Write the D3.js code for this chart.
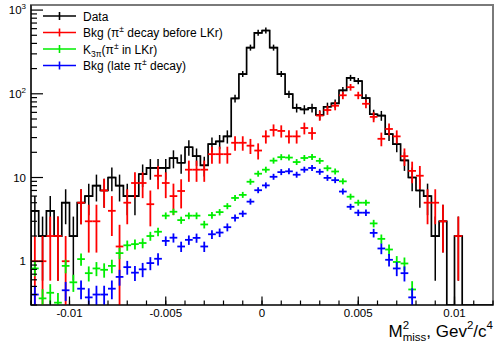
<!DOCTYPE html>
<html>
<head>
<meta charset="utf-8">
<script src="https://cdn.jsdelivr.net/npm/d3@7.9.0/dist/d3.min.js"></script>
<style>
  html, body { margin: 0; padding: 0; background: #fff; }
  svg { display: block; }
  text { font-family: 'Liberation Sans', Arimo, Arial, Helvetica, sans-serif; }
</style>
</head>
<body>
<svg id="chart" width="495" height="343" font-family="Liberation Sans, Arial, sans-serif"></svg>
<script>
// binning of the M2miss histograms
const xLow = -0.012, xHigh = 0.012, nBins = 60;

// bin contents
const dataCounts = [
  4, 2, 4, 2, 5, 2, 5, 6, 8, 7,
  10, 8, 6, 6, 11, 13, 13, 13, 17, 15,
  23, 18, 14, 25, 27, 31, 88, 172, 356, 535,
  570, 356, 172, 99, 68, 65, 68, 56, 70, 77,
  110, 155, 142, 89, 57, 55, 33, 25, 16, 10,
  7, 6, 2, 3, 0, 2, 0, 0, 0, 0
];
const bkgBeforeLKr = [
  1, 1, 2, 2, 1, 0, 5, 3, 3, 7,
  4, 1.5, 5, 8.6, 8.6, 4.8, 10.5, 8.6, 6, 6.9,
  12.4, 12.4, 12.4, 19, 19, 19, 26, 26, 24, 21,
  31, 37, 36, 31, 31, 39, 34, 55, 64, 72,
  96, 120, 96, 76, 53, 29, 38, 31, 18, 12,
  10.5, 5, 5, 3, 0, 2, 0, 0, 0, 0
];
const k3piInLKr = [
  0.82, 0.36, 0.42, 0.32, 0.88, 0.56, 1.06, 0.72, 0.82, 0.79,
  0.88, 1.25, 1.55, 1.6, 1.65, 2.0, 2.25, 3.5, 3.9, 3.1,
  3.5, 3.5, 2.75, 3.55, 3.86, 4.55, 5.7, 6.2, 8.9, 11.1,
  12.4, 15.9, 17.5, 17.3, 15.3, 17.1, 17.6, 15.8, 12.9, 11.8,
  9.0, 5.9, 5.0, 5.0, 2.83, 1.85, 1.38, 0.98, 0.94, 0.46,
  0, 0, 0, 0, 0, 0, 0, 0, 0, 0
];
const bkgLateDecay = [
  0.40, 0, 0, 0, 0.45, 0, 0.47, 0.37, 0.40, 0.40,
  0.47, 0.65, 0.85, 0.73, 0.80, 0.95, 1.07, 1.75, 1.91, 1.5,
  1.8, 1.9, 1.5, 2.1, 2.2, 2.55, 3.3, 3.7, 5.15, 7.05,
  8.05, 10.2, 11.6, 11.85, 10.8, 12.4, 13.0, 11.7, 9.9, 9.3,
  6.8, 4.47, 3.8, 3.8, 2.18, 1.42, 1.04, 0.82, 0.72, 0.37,
  0, 0, 0, 0, 0, 0, 0, 0, 0, 0
];

const xTicks = [-0.01, -0.005, 0, 0.005, 0.01];
const xTickLabels = ['-0.01', '-0.005', '0', '0.005', '0.01'];
const yTicks = [1, 10, 100, 1000];
const yTickLabels = [['1', ''], ['10', ''], ['10', '2'], ['10', '3']];

// legend text pieces: [text, 0 normal | 1 superscript | -1 subscript]
const legendNames = [
  [['Data', 0]],
  [['Bkg (\u03c0', 0], ['\u00b1', 1], [' decay before LKr)', 0]],
  [['K', 0], ['3\u03c0', -1], ['(\u03c0', 0], ['\u00b1', 1], [' in LKr)', 0]],
  [['Bkg (late \u03c0', 0], ['\u00b1', 1], [' decay)', 0]]
];
const seriesColors = ['#000000', '#ff0000', '#00ee00', '#0000ff'];

const svg = d3.select('#chart');
const L = 31, R = 493, T = 5, B = 305;

const x = d3.scaleLinear().domain([xLow, xHigh]).range([L, R]);
const y = d3.scaleLog().domain([0.3, 1150]).range([B, T]);
const binW = (xHigh - xLow) / nBins;
const edge = i => xLow + i * binW;

svg.append('clipPath').attr('id', 'frame')
  .append('rect').attr('x', L).attr('y', T).attr('width', R - L).attr('height', B - T);

// frame
svg.append('rect')
  .attr('x', L).attr('y', T).attr('width', R - L).attr('height', B - T)
  .attr('fill', 'none').attr('stroke', '#7a7a7a').attr('stroke-width', 2);

const plot = svg.append('g').attr('clip-path', 'url(#frame)');

// data histogram outline
const yOrZero = v => v > 0 ? y(v) : B;
const p = d3.path();
p.moveTo(x(xLow), B);
dataCounts.forEach((v, i) => {
  p.lineTo(x(edge(i)), yOrZero(v));
  p.lineTo(x(edge(i + 1)), yOrZero(v));
});
p.lineTo(x(xHigh), B);
plot.append('path').attr('d', p.toString())
  .attr('fill', 'none').attr('stroke', '#000').attr('stroke-width', 1.7);

function drawErrors(vals, errOf, color, lw) {
  const pts = vals.map((v, i) => ({ v, i, e: errOf(v) })).filter(d => d.v > 0);
  const g = plot.append('g').attr('stroke', color).attr('stroke-width', lw);
  g.selectAll('line.h').data(pts).join('line').attr('class', 'h')
    .attr('x1', d => x(edge(d.i))).attr('x2', d => x(edge(d.i + 1)))
    .attr('y1', d => y(d.v)).attr('y2', d => y(d.v));
  g.selectAll('line.v').data(pts).join('line').attr('class', 'v')
    .attr('x1', d => x(edge(d.i) + binW / 2)).attr('x2', d => x(edge(d.i) + binW / 2))
    .attr('y1', d => Math.min(y(d.v + d.e), y(d.v) - 3))
    .attr('y2', d => d.v - d.e > 0 ? Math.max(y(d.v - d.e), y(d.v) + 3) : B);
}

drawErrors(dataCounts, v => Math.sqrt(v), seriesColors[0], 1.5);
drawErrors(bkgBeforeLKr, v => Math.sqrt(v), seriesColors[1], 1.8);
drawErrors(k3piInLKr, v => Math.sqrt(v * 0.03), seriesColors[2], 1.8);
drawErrors(bkgLateDecay, v => Math.sqrt(v * 0.03), seriesColors[3], 1.8);

// axes
const axes = svg.append('g').attr('stroke', '#000').attr('stroke-width', 1.2);
axes.append('line').attr('x1', L).attr('x2', R).attr('y1', B).attr('y2', B);
axes.append('line').attr('x1', L).attr('x2', L).attr('y1', T).attr('y2', B);

const xMinor = d3.range(-12, 13).map(k => k / 1000);
axes.selectAll('line.xm').data(xMinor).join('line').attr('class', 'xm')
  .attr('x1', d => x(d)).attr('x2', d => x(d)).attr('y1', B).attr('y2', B - 4.5);
axes.selectAll('line.xM').data(xTicks).join('line').attr('class', 'xM')
  .attr('x1', d => x(d)).attr('x2', d => x(d)).attr('y1', B).attr('y2', B - 8.5);

const yMinor = [];
[0.1, 1, 10, 100, 1000].forEach(dec => d3.range(2, 10).forEach(k => {
  const v = k * dec;
  if (v >= y.domain()[0] && v <= y.domain()[1]) yMinor.push(v);
}));
axes.selectAll('line.ym').data(yMinor).join('line').attr('class', 'ym')
  .attr('x1', L).attr('x2', L + 6).attr('y1', d => y(d)).attr('y2', d => y(d));
axes.selectAll('line.yM').data(yTicks).join('line').attr('class', 'yM')
  .attr('x1', L).attr('x2', L + 12).attr('y1', d => y(d)).attr('y2', d => y(d));

svg.selectAll('text.xl').data(xTicks).join('text').attr('class', 'xl')
  .attr('x', d => x(d)).attr('y', B + 12).attr('text-anchor', 'middle')
  .attr('font-size', 11.5).text((d, i) => xTickLabels[i]);

const yl = svg.selectAll('text.yl').data(yTicks).join('text').attr('class', 'yl')
  .attr('x', 26).attr('y', d => y(d) + 4).attr('text-anchor', 'end').attr('font-size', 11.5);
yl.append('tspan').text((d, i) => yTickLabels[i][0]);
yl.append('tspan').attr('font-size', 8).attr('dy', -5).text((d, i) => yTickLabels[i][1]);

// axis title  M^2_miss, Gev^2/c^4
const title = svg.append('text').attr('x', R).attr('y', 337)
  .attr('text-anchor', 'end').attr('font-size', 17);
title.append('tspan').text('M');
title.append('tspan').attr('font-size', 11.5).attr('dy', -8).text('2');
title.append('tspan').attr('font-size', 11.5).attr('dx', -6.4).attr('dy', 12).text('miss');
title.append('tspan').attr('dy', -4).text(', Gev');
title.append('tspan').attr('font-size', 11.5).attr('dy', -8).text('2');
title.append('tspan').attr('dy', 8).text('/c');
title.append('tspan').attr('font-size', 11.5).attr('dy', -8).text('4');

// legend
const leg = svg.append('g');
const rowY = i => 16 + i * 16.5;
legendNames.forEach((parts, i) => {
  const c = seriesColors[i];
  leg.append('line').attr('x1', 43).attr('x2', 76).attr('y1', rowY(i)).attr('y2', rowY(i))
    .attr('stroke', c).attr('stroke-width', 1.6);
  leg.append('line').attr('x1', 59.5).attr('x2', 59.5).attr('y1', rowY(i) - 4).attr('y2', rowY(i) + 4)
    .attr('stroke', c).attr('stroke-width', 1.6);
  const t = leg.append('text').attr('x', 83).attr('y', rowY(i) + 4.5).attr('font-size', 12);
  let shift = 0;
  parts.forEach(([s, k]) => {
    const dy = k === 1 ? -5 : k === -1 ? 3.5 : 0;
    t.append('tspan').attr('font-size', k ? 8.5 : 12).attr('dy', dy - shift).text(s);
    shift = dy;
  });
});
</script>
</body>
</html>
